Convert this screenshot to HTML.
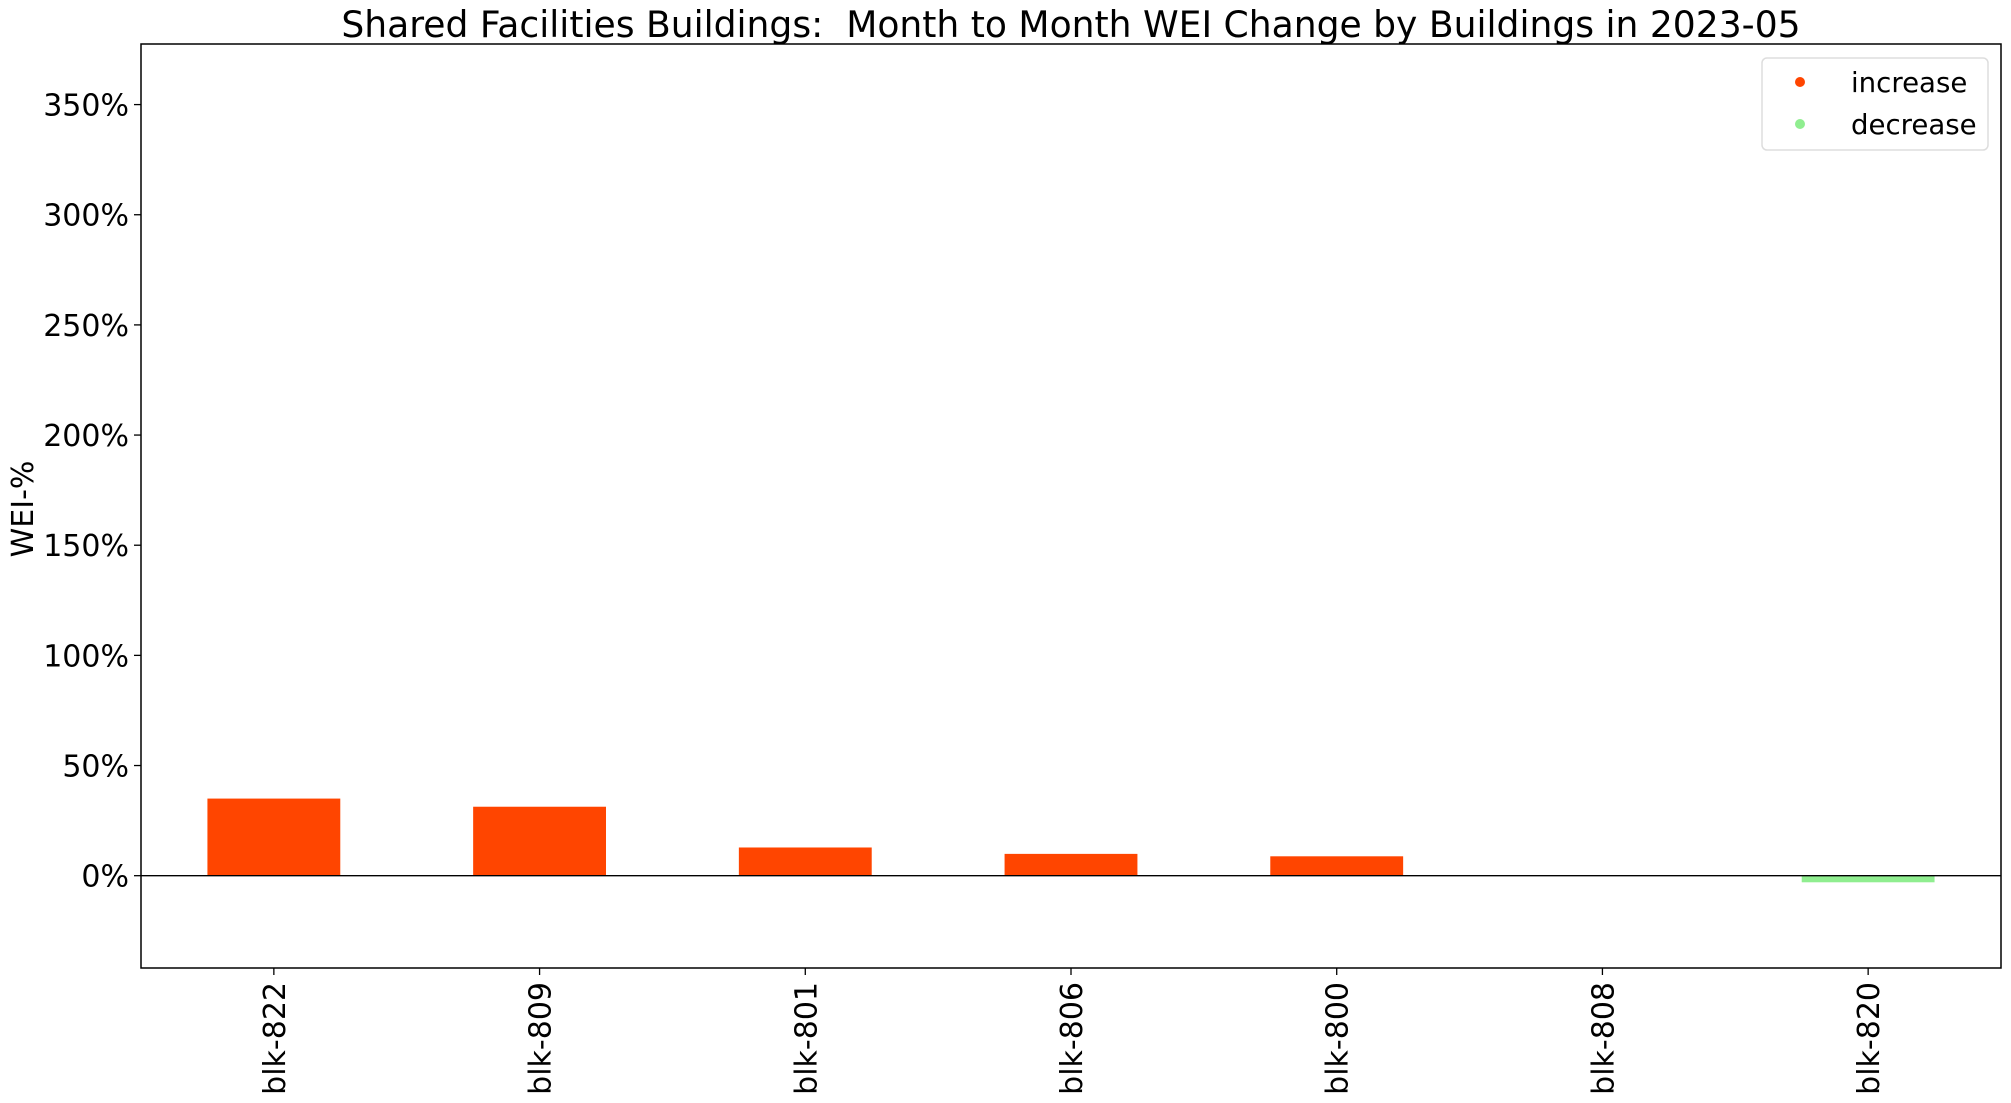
<!DOCTYPE html>
<html><head><meta charset="utf-8"><style>
html,body{margin:0;padding:0;background:#fff;}
svg{display:block;font-family:"DejaVu Sans","Liberation Sans",sans-serif;}
</style></head><body>
<svg id="chart" width="2011" height="1103" viewBox="0 0 2011 1103">
<text x="1071" y="37" font-size="36.1" text-anchor="middle" style="white-space:pre">Shared Facilities Buildings:  Month to Month WEI Change by Buildings in 2023-05</text>
<text transform="translate(33,509) rotate(-90)" font-size="30" text-anchor="middle">WEI-%</text>
<g id="plot"></g>
<g>
<rect x="1762" y="58" width="226" height="92" rx="5" fill="#fff" stroke="#ddd" stroke-width="1.5"/>
<circle cx="1800" cy="82" r="5" fill="#ff4500"/>
<text x="1851" y="92" font-size="27.6">increase</text>
<circle cx="1800" cy="124" r="5" fill="#90ee90"/>
<text x="1851" y="134" font-size="27.6">decrease</text>
</g>
</svg>
<script>
const categories = ["blk-822","blk-809","blk-801","blk-806","blk-800","blk-808","blk-820"];
const values = [35.0, 31.3, 12.8, 9.9, 8.8, 0, -3.0];
const yTicks = [0, 50, 100, 150, 200, 250, 300, 350];
const yTickLabels = ["0%","50%","100%","150%","200%","250%","300%","350%"];

const L=141, R=2001, T=44, B=968;
const yMin=-41.9, yMax=377.5;
const xMin=-0.5, xMax=categories.length-0.5;
const ns="http://www.w3.org/2000/svg";
function xs(i){return L+(i-xMin)/(xMax-xMin)*(R-L);}
function ys(v){return B-(v-yMin)/(yMax-yMin)*(B-T);}
const g=document.getElementById('plot');
function mk(tag,attrs){const e=document.createElementNS(ns,tag);for(const k in attrs)e.setAttribute(k,attrs[k]);g.appendChild(e);return e;}
const bw=(R-L)/(xMax-xMin)*0.5;
values.forEach((v,i)=>{
  const y0=ys(0), y1=ys(v);
  const r=mk('rect',{x:xs(i)-bw/2,y:Math.min(y0,y1),width:bw,height:Math.abs(y1-y0),fill:v>=0?'#ff4500':'#90ee90'});
  
  
});
const zl=mk('line',{x1:L,x2:R,y1:ys(0),y2:ys(0),stroke:'#000','stroke-width':1.3});


const frame=mk('rect',{x:L,y:T,width:R-L,height:B-T,fill:'none',stroke:'#000','stroke-width':1.5});


yTicks.forEach((t,i)=>{
  const y=ys(t);
  mk('line',{x1:L-7,x2:L,y1:y,y2:y,stroke:'#000','stroke-width':1.3});
  const tx=mk('text',{x:L-12,y:y+11,'font-size':30,'text-anchor':'end'});
  tx.textContent=yTickLabels[i];
  
  
});
categories.forEach((c,i)=>{
  const x=xs(i);
  mk('line',{x1:x,x2:x,y1:B,y2:B+7,stroke:'#000','stroke-width':1.3});
  const tx=mk('text',{transform:`translate(${x+11},${B+14}) rotate(-90)`,'font-size':30,'text-anchor':'end'});
  tx.textContent=c;
  
  
});
</script>
</body></html>
